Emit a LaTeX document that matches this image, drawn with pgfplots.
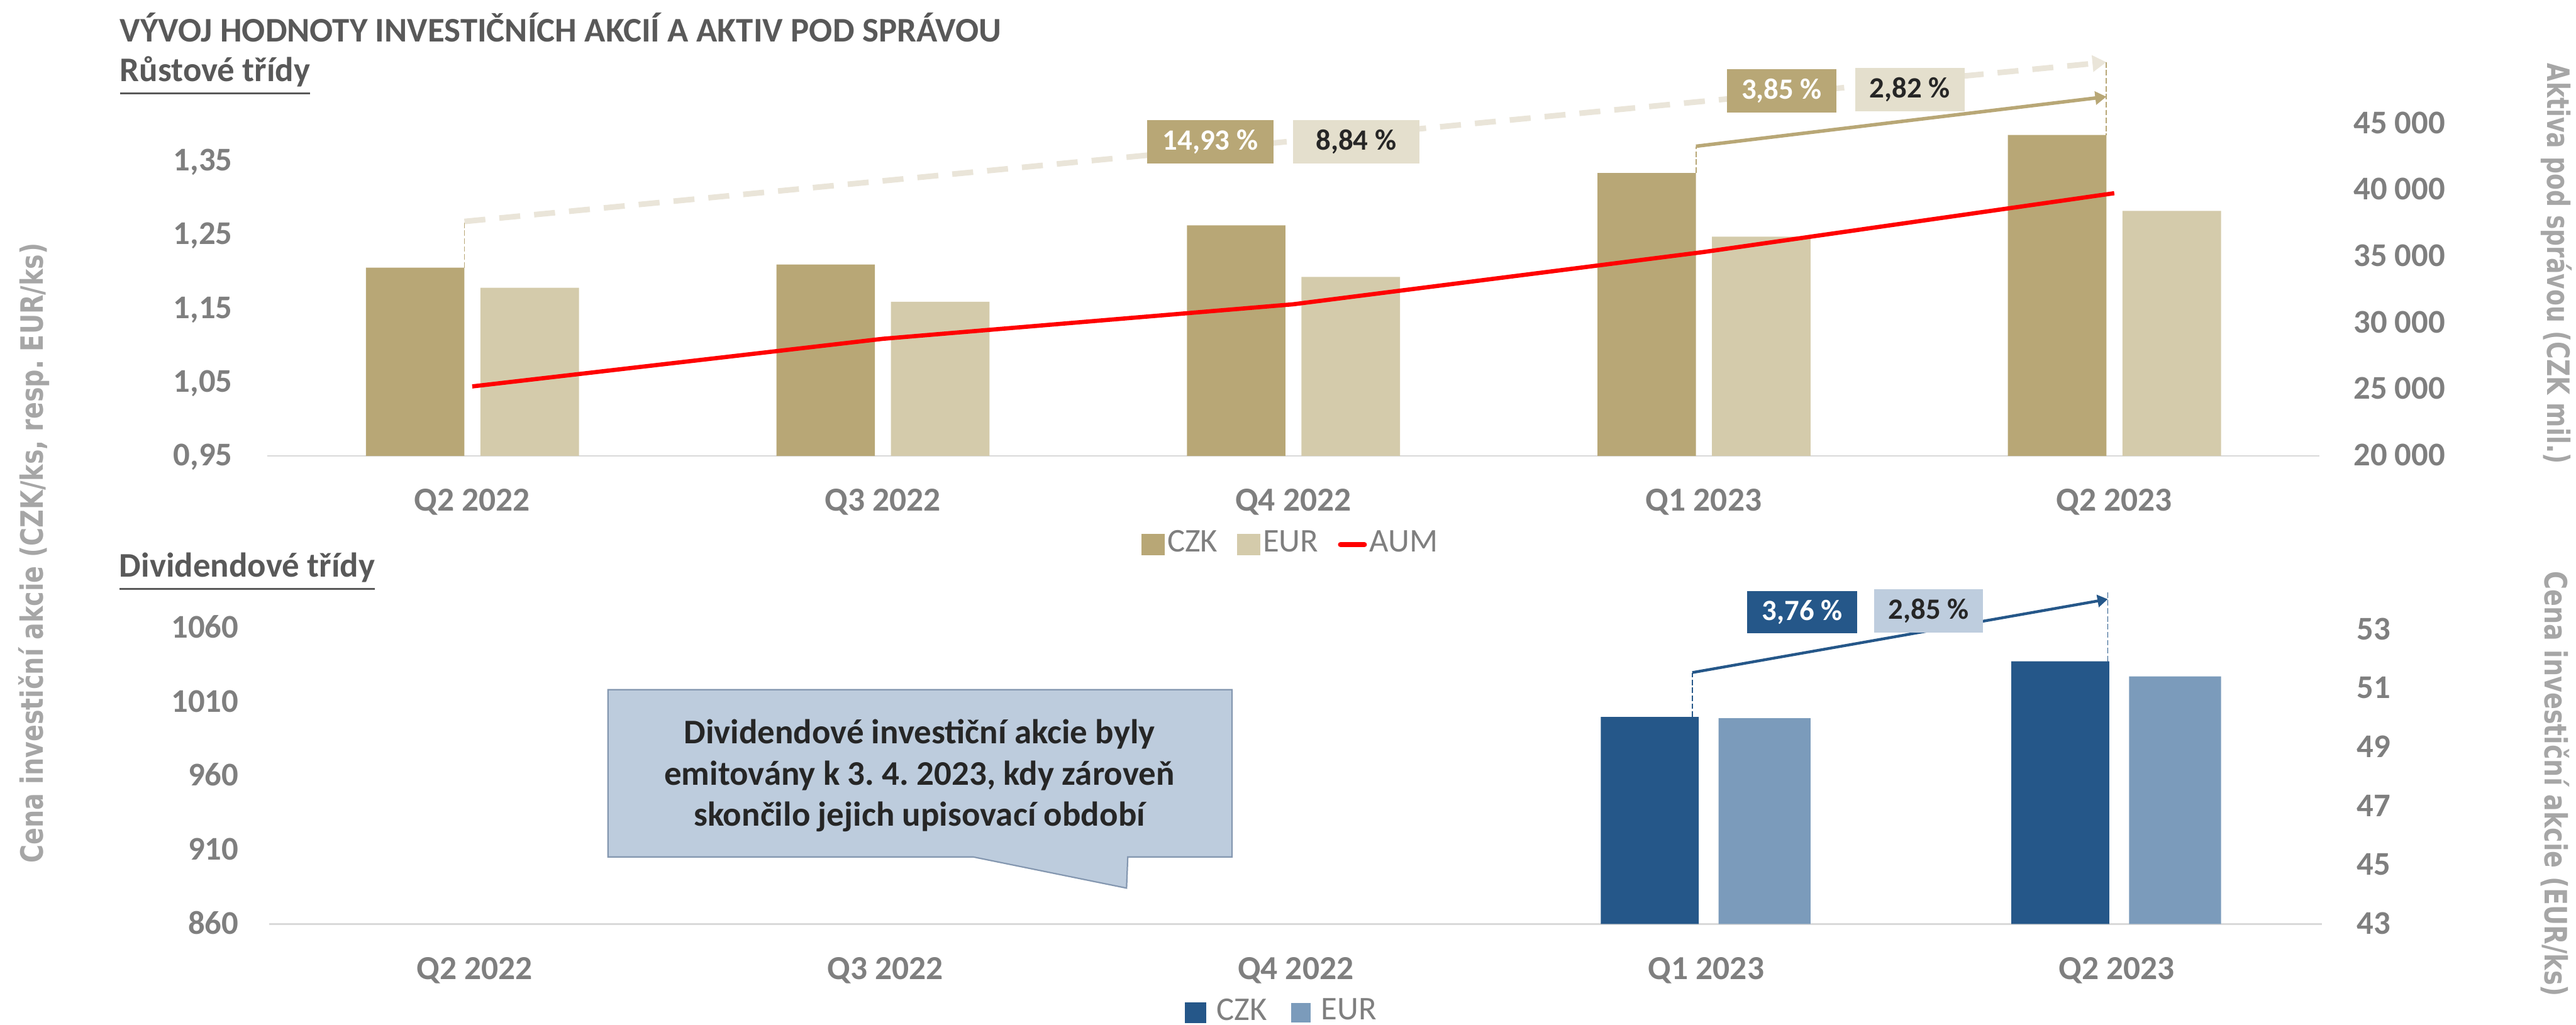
\documentclass[border=0pt]{standalone}
\usepackage{pgfplots}
\pgfplotsset{compat=1.18}
\usepackage{graphicx}
\usepackage{fontspec}
\setmainfont{Carlito}
\newfontfamily\verd{DejaVu Sans}
\usetikzlibrary{arrows.meta}
\definecolor{czk}{RGB}{184,167,118}
\definecolor{eur}{RGB}{212,203,171}
\definecolor{eurbox}{RGB}{228,223,205}
\definecolor{dashc}{RGB}{234,229,217}
\definecolor{bluec}{RGB}{37,87,137}
\definecolor{bluel}{RGB}{123,155,187}
\definecolor{blueboxl}{RGB}{190,205,222}
\definecolor{callfill}{RGB}{189,204,221}
\definecolor{calldraw}{RGB}{132,151,176}
\definecolor{tickc}{RGB}{127,127,127}
\definecolor{titlec}{RGB}{89,89,89}
\definecolor{axtitle}{RGB}{166,166,166}
\definecolor{gridc}{RGB}{217,217,217}
\definecolor{darktext}{RGB}{38,38,38}
\pgfplotsset{
  basechart/.style={
    scale only axis, anchor=south west,
    xmin=-0.5, xmax=4.5,
    major tick length=0pt,
    scaled y ticks=false,
    tick label style={font=\bfseries\fontsize{7.1}{8}\selectfont, text=tickc, inner sep=0pt},
    xticklabel style={font=\bfseries\fontsize{7.2}{8}\selectfont},
    clip mode=individual,
  },
}
\tikzset{pctbox/.style={inner sep=0pt, minimum height=9.3pt, font=\bfseries\fontsize{6.3}{7}\selectfont}}
\begin{document}
\frenchspacing
\begin{tikzpicture}
\useasboundingbox (0,0) rectangle (551.9pt,219.6pt);

% ---------------- TOP CHART ----------------
\begin{axis}[basechart,
  at={(57.2pt,121.9pt)}, width=439.75pt, height=79pt,
  ymin=0.95, ymax=1.45,
  axis x line*=bottom, axis y line*=left,
  x axis line style={draw=gridc, line width=0.35pt},
  y axis line style={draw=none},
  xtick={0,1,2,3,4}, xticklabels={Q2 2022,Q3 2022,Q4 2022,Q1 2023,Q2 2023},
  ytick={0.95,1.05,1.15,1.25,1.35}, yticklabels={{0,95},{1,05},{1,15},{1,25},{1,35}},
  xticklabel style={anchor=base, yshift=-11.8pt},
  yticklabel style={anchor=base east, xshift=-7.2pt, yshift=-2.1pt},
]
\addplot[ybar, bar width=0.24, bar shift=-0.139, fill=czk, draw=none]
  coordinates {(0,1.2053)(1,1.2097)(2,1.2628)(3,1.3338)(4,1.3854)};
\addplot[ybar, bar width=0.24, bar shift=0.140, fill=eur, draw=none]
  coordinates {(0,1.1781)(1,1.1592)(2,1.1927)(3,1.2474)(4,1.2824)};
% annotations
\draw[czk, line width=0.25pt, dash pattern=on 1.2pt off 0.5pt] (axis cs:-0.019,1.2053) -- (axis cs:-0.019,1.268);
\draw[dashc, line width=1.2pt, dash pattern=on 4.5pt off 3pt, -{Triangle[length=3pt,width=3.4pt]}] (axis cs:-0.019,1.268) -- (axis cs:3.981,1.484);
\draw[czk, line width=0.25pt, dash pattern=on 1.2pt off 0.5pt] (axis cs:3.981,1.484) -- (axis cs:3.981,1.3854);
\draw[czk, line width=0.75pt, -{Triangle[length=2.4pt,width=2.8pt]}] (axis cs:2.981,1.370) -- (axis cs:3.981,1.4372);
\draw[czk, line width=0.25pt, dash pattern=on 1.2pt off 0.5pt] (axis cs:2.981,1.3338) -- (axis cs:2.981,1.370);
\node[pctbox, fill=czk, text=white, minimum width=27.1pt] at (axis cs:1.798,1.3762) {14,93 \%};
\node[pctbox, fill=eurbox, text=darktext, minimum width=27.1pt] at (axis cs:2.153,1.3759) {8,84 \%};
\node[pctbox, fill=czk, text=white, minimum width=23.5pt] at (axis cs:3.190,1.4451) {3,85 \%};
\node[pctbox, fill=eurbox, text=darktext, minimum width=23.4pt] at (axis cs:3.502,1.4464) {2,82 \%};
\end{axis}

\begin{axis}[basechart,
  at={(57.2pt,121.9pt)}, width=439.75pt, height=79pt,
  ymin=20000, ymax=47739,
  axis x line=none, axis y line*=right,
  y axis line style={draw=none},
  xtick=\empty,
  ytick={20000,25000,30000,35000,40000,45000},
  yticklabels={20 000,25 000,30 000,35 000,40 000,45 000},
  yticklabel style={anchor=base west, xshift=7.1pt, yshift=-2.1pt},
  legend style={at={(0.499,-0.2405)}, anchor=center, draw=none, fill=none,
    font=\fontsize{7.1}{8}\selectfont, text=tickc, inner sep=0pt,
    nodes={inner sep=0.6pt},
    /tikz/every even column/.append style={column sep=3.6pt}},
  legend columns=-1,
]
\addlegendimage{legend image code/.code={\fill[czk] (0pt,-2.05pt) rectangle (4.5pt,2.05pt);}}
\addlegendentry{CZK}
\addlegendimage{legend image code/.code={\fill[eur] (0pt,-2.05pt) rectangle (4.5pt,2.05pt);}}
\addlegendentry{EUR}
\addplot[red, line width=0.9pt, line join=round,
  legend image code/.code={\draw[red, line width=1.1pt, line cap=round] (0.4pt,0pt) -- (5.5pt,0pt);}]
  coordinates {(0,25232)(1,28813)(2,31411)(3,35344)(4,39768)};
\addlegendentry{AUM}
\end{axis}

% ---------------- BOTTOM CHART ----------------
\begin{axis}[basechart,
  at={(57.7pt,21.6pt)}, width=439.8pt, height=63.4pt,
  ymin=860, ymax=1060,
  axis x line*=bottom, axis y line*=left,
  x axis line style={draw=gridc, line width=0.35pt},
  y axis line style={draw=none},
  xtick={0,1,2,3,4}, xticklabels={Q2 2022,Q3 2022,Q4 2022,Q1 2023,Q2 2023},
  ytick={860,910,960,1010,1060}, yticklabels={860,910,960,1010,1060},
  xticklabel style={anchor=base, yshift=-11.8pt},
  yticklabel style={anchor=base east, xshift=-6.4pt, yshift=-2.1pt},
]
\addplot[ybar, bar width=0.2388, bar shift=-0.1376, fill=bluec, draw=none]
  coordinates {(3,1000)(4,1037.6)};
% callout
\draw[fill=callfill, draw=calldraw, line width=0.3pt]
  (axis cs:0.325,1018.4) -- (axis cs:1.845,1018.4) -- (axis cs:1.845,905.4) -- (axis cs:1.591,905.4)
  -- (axis cs:1.588,884.3) -- (axis cs:1.214,905.4) -- (axis cs:0.325,905.4) -- cycle;
\node[align=center, text=darktext, font=\bfseries\fontsize{7.4}{8.8}\selectfont] at (axis cs:1.0836,960.3)
  {Dividendové investiční akcie byly\\emitovány k 3. 4. 2023, kdy zároveň\\skončilo jejich upisovací období};
% growth annotation
\draw[bluec, line width=0.25pt, dash pattern=on 1.2pt off 0.5pt] (axis cs:2.966,1000) -- (axis cs:2.966,1030);
\draw[bluec, line width=0.25pt, dash pattern=on 1.2pt off 0.5pt] (axis cs:3.978,1037.6) -- (axis cs:3.978,1084.3);
\draw[bluec, line width=0.6pt, -{Triangle[length=2.2pt,width=2.6pt]}] (axis cs:2.966,1030) -- (axis cs:3.978,1079.6);
\node[pctbox, fill=bluec, text=white, minimum width=23.5pt, minimum height=9.1pt] at (axis cs:3.2337,1070.9) {3,76 \%};
\node[pctbox, fill=blueboxl, text=darktext, minimum width=23.3pt, minimum height=9.2pt] at (axis cs:3.5418,1071.7) {2,85 \%};
\end{axis}

\begin{axis}[basechart,
  at={(57.7pt,21.6pt)}, width=439.8pt, height=63.4pt,
  ymin=43, ymax=53.063,
  axis x line=none, axis y line*=right,
  y axis line style={draw=none},
  xtick=\empty,
  ytick={43,45,47,49,51,53}, yticklabels={43,45,47,49,51,53},
  yticklabel style={anchor=base west, xshift=7.3pt, yshift=-2.1pt},
  legend style={at={(0.4934,-0.2997)}, anchor=center, draw=none, fill=none,
    font=\fontsize{7.1}{8}\selectfont, text=tickc, inner sep=0pt,
    nodes={inner sep=0.6pt},
    /tikz/every odd column/.append style={column sep=1.6pt},
    /tikz/every even column/.append style={column sep=4.6pt}},
  legend columns=-1,
]
\addlegendimage{legend image code/.code={\fill[bluec] (0pt,-2.05pt) rectangle (4.2pt,2.05pt);}}
\addlegendentry{CZK}
\addplot[ybar, bar width=0.224, bar shift=0.142, fill=bluel, draw=none,
  legend image code/.code={\fill[bluel] (0pt,-2.05pt) rectangle (4.2pt,2.05pt);}]
  coordinates {(3,50.0)(4,51.425)};
\addlegendentry{EUR}
\end{axis}

% ---------------- TEXTS ----------------
\node[anchor=base west, inner sep=0pt, text=titlec, font=\bfseries\fontsize{7.4}{8}\selectfont] at (25.5pt,210.6pt)
  {VÝVOJ HODNOTY INVESTIČNÍCH AKCIÍ A AKTIV POD SPRÁVOU};
\node[anchor=base west, inner sep=0pt, text=titlec, font=\bfseries\fontsize{7.4}{8}\selectfont] at (25.5pt,202.1pt)
  {\underline{Růstové třídy}};
\node[anchor=base west, inner sep=0pt, text=titlec, font=\bfseries\fontsize{7.4}{8}\selectfont] at (25.4pt,96pt)
  {\underline{Dividendové třídy}};
\node[rotate=90, inner sep=0pt, text=axtitle, font=\verd\bfseries\fontsize{6.6}{7}\selectfont] at (7.3pt,101.1pt)
  {\scalebox{0.81}[1]{Cena investiční akcie (CZK/ks, resp. EUR/ks)}};
\node[rotate=-90, inner sep=0pt, text=axtitle, font=\verd\bfseries\fontsize{6.6}{7}\selectfont] at (547.7pt,163.1pt)
  {\scalebox{0.77}[1]{Aktiva pod správou (CZK mil.)}};
\node[rotate=-90, inner sep=0pt, text=axtitle, font=\verd\bfseries\fontsize{6.6}{7}\selectfont] at (547.4pt,51.6pt)
  {\scalebox{0.81}[1]{Cena investiční akcie (EUR/ks)}};
\end{tikzpicture}
\end{document}
